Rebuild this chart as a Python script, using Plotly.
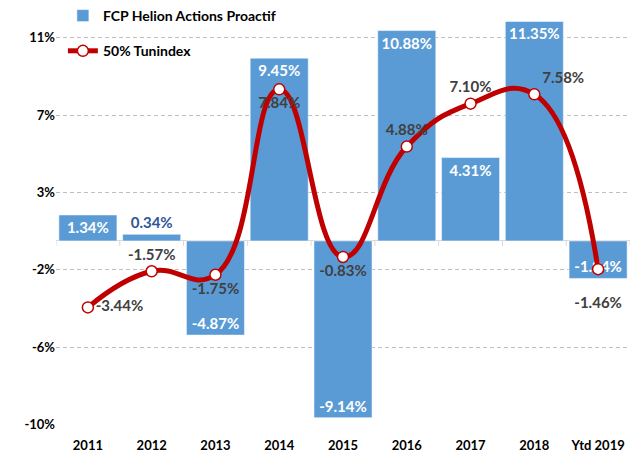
import plotly.graph_objects as go

categories = ["2011", "2012", "2013", "2014", "2015", "2016", "2017", "2018", "Ytd 2019"]
fund_values = [1.34, 0.34, -4.87, 9.45, -9.14, 10.88, 4.31, 11.35, -1.94]
index_values = [-3.44, -1.57, -1.75, 7.84, -0.83, 4.88, 7.10, 7.58, -1.46]
fund_name = "FCP Helion Actions Proactif"
index_name = "50% Tunindex"
tick_values = [-9.5, -5.5, -1.5, 2.5, 6.5, 10.5]
tick_labels = ["-10%", "-6%", "-2%", "3%", "7%", "11%"]

FONT = "Lato, 'Open Sans', sans-serif"
BLUE = "#5b9bd5"
RED = "#c00000"

bar_pos = ["inside" if abs(v) > 1 else "outside" for v in fund_values]
line_pos = ["middle right", "top center", "bottom center", "bottom center",
            "bottom center", "top center", "top center", "top right", "bottom center"]
line_tpl = ["%{y:.2f}%"] * (len(categories) - 1) + ["<br>%{y:.2f}%"]

fig = go.Figure()
fig.add_trace(go.Bar(
    x=categories, y=fund_values, name=fund_name,
    marker=dict(color=BLUE, line=dict(color="white", width=0.5)),
    texttemplate="%{y:.2f}%", textposition=bar_pos,
    insidetextanchor="end", textangle=0, constraintext="none",
    insidetextfont=dict(family=FONT, size=15, color="white", weight="bold"),
    outsidetextfont=dict(family=FONT, size=15, color="#2f5597", weight="bold"),
    legendgroup="a",
))
fig.add_trace(go.Scatter(
    x=categories, y=index_values, name=index_name, mode="lines+markers+text",
    line=dict(color=RED, width=5, shape="spline", smoothing=1.3),
    marker=dict(size=11, color="white", line=dict(color=RED, width=1.5)),
    texttemplate=line_tpl, textposition=line_pos,
    textfont=dict(family=FONT, size=15, color="#404040", weight="bold"),
    legendgroup="b",
))

n = len(categories)
for i in range(n + 1):
    fig.add_shape(type="line", xref="x", yref="y", x0=i - 0.5, x1=i - 0.5,
                  ysizemode="pixel", yanchor=0, y0=0, y1=-5,
                  line=dict(color="#d9d9d9", width=1))

fig.update_layout(
    width=638, height=459,
    margin=dict(l=56, r=8, t=0, b=34, autoexpand=False),
    plot_bgcolor="white", paper_bgcolor="white",
    bargap=0.09,
    font=dict(family=FONT, size=13, color="#000000"),
    showlegend=True,
    legend=dict(x=0.012, y=1.0, xanchor="left", yanchor="top",
                bgcolor="rgba(0,0,0,0)", tracegroupgap=14,
                font=dict(family=FONT, size=14, color="#000000", weight="bold")),
    xaxis=dict(type="category", showgrid=False, showline=False, ticks="",
               ticklabelstandoff=11, automargin=False,
               tickfont=dict(family=FONT, size=13, color="#000000", weight="bold"),
               range=[-0.5, n - 0.5]),
    yaxis=dict(range=[-9.52, 12.46], tickvals=tick_values, ticktext=tick_labels,
               showgrid=True, gridcolor="#bfbfbf", griddash="4px,3px", gridwidth=1,
               zeroline=True, zerolinecolor="#d9d9d9", zerolinewidth=1,
               showline=False, ticks="", ticklabelstandoff=0, automargin=False,
               tickfont=dict(family=FONT, size=13, color="#000000", weight="bold")),
)

fig.write_html("out.html", config={"displayModeBar": False},
               post_script="document.body.style.margin='0';")
